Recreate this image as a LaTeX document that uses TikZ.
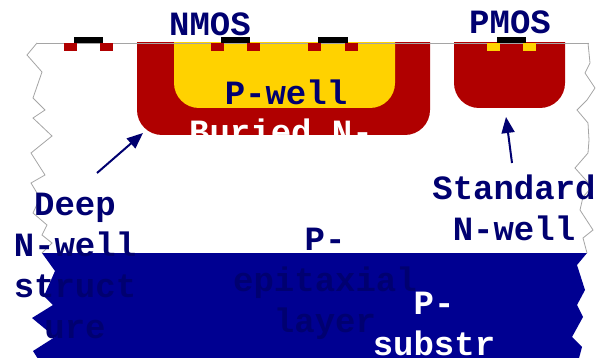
\documentclass[tikz,border=0pt]{standalone}
\usepackage{fontspec}
\setmonofont{Liberation Mono}
\usetikzlibrary{arrows.meta}

\definecolor{wellred}{RGB}{176,0,0}
\definecolor{wellyellow}{RGB}{255,210,0}
\definecolor{substrblue}{RGB}{0,0,145}
\definecolor{labelnavy}{RGB}{0,0,112}
\definecolor{edgegray}{RGB}{165,165,165}

\begin{document}
\begin{tikzpicture}[x=1pt,y=-1pt,
  lbl/.style={font=\ttfamily\bfseries\fontsize{34}{41}\selectfont, text=labelnavy, inner sep=0pt, align=center, anchor=base},
  gate/.style={fill=black},
  arr/.style={draw=labelnavy, line width=2pt, -{Triangle[length=16pt,width=13pt]}}]

  \useasboundingbox[fill=white] (0,0) rectangle (599,358);

  % P- substrate with broken edges
  \fill[substrblue] (42,253) -- (587,253) -- (577,265) -- (585,290) -- (577,305) -- (583,317)
    -- (572,337) -- (582,347) -- (578,362) -- (40,362) -- (33,351) -- (55,337) -- (32,318)
    -- (53,305) -- (44,296) -- (55,271) -- cycle;

  % break lines of the epitaxial layer
  \draw[edgegray, line width=0.8pt] (37,43) -- (27,55) -- (42,72) -- (33,98) -- (45,110) -- (33,118)
    -- (52,136) -- (31,153) -- (45,175) -- (31,183) -- (40,198) -- (33,213) -- (47,225)
    -- (42,235) -- (52,243) -- (42,253);
  \draw[edgegray, line width=0.8pt] (588,43) -- (590,63) -- (585,73) -- (595,88) -- (587,100)
    -- (577,110) -- (588,123) -- (589,140) -- (588,153) -- (575,168) -- (592,187) -- (583,197)
    -- (580,210) -- (593,230) -- (583,238) -- (587,253);

  % Wells
  \begin{scope}
    \clip (0,43) rectangle (599,358);
    \fill[wellred, rounded corners=25pt] (137,0) rectangle (430,135);
    \fill[wellyellow, rounded corners=25pt] (174,0) rectangle (395,108);
    \fill[wellred, rounded corners=25pt] (454,0) rectangle (565,108);
  \end{scope}

  % Silicon surface
  \draw[edgegray, line width=0.8pt] (37,43) -- (589,43);

  % Source and drain
  \fill[wellred] (64,43) rectangle (77,51);
  \fill[wellred] (100,43) rectangle (113,51);
  \fill[wellred] (211,43) rectangle (224,51);
  \fill[wellred] (247,43) rectangle (260,51);
  \fill[wellred] (308,43) rectangle (321,51);
  \fill[wellred] (345,43) rectangle (358,51);
  \fill[wellyellow] (487,43) rectangle (500,51);
  \fill[wellyellow] (523,43) rectangle (536,51);

  % Gates
  \fill[gate] (74,37) rectangle (103,43);
  \fill[gate] (221,37) rectangle (250,43);
  \fill[gate] (318,37) rectangle (348,43);
  \fill[gate] (497,37) rectangle (526,43);

  % Labels
  \node[lbl] (nmos) at (210,36) {NMOS};
  \node[lbl] (pmos) at (510,34) {PMOS};
  \node[lbl] (pwell) at (286,105) {P-well};
  \node[lbl, text=white] (buried) at (281,144) {Buried N-};
  \node[lbl] (deep) at (75,338) {Deep\\N-well\\struct\\ure};
  \node[lbl] (stdwell) at (514,240) {Standard\\N-well};
  \node[lbl] (epi) at (325,332) {P-\\epitaxial\\layer};
  \node[lbl, text=white] (substr) at (434,355) {P-\\substr};

  % Arrows
  \coordinate (deeptail) at (97,173);
  \coordinate (deeptip) at (143,133);
  \coordinate (stdtail) at (512,163);
  \coordinate (stdtip) at (506,117);
  \draw[arr] (deeptail) -- (deeptip);
  \draw[arr] (stdtail) -- (stdtip);
\end{tikzpicture}
\end{document}
